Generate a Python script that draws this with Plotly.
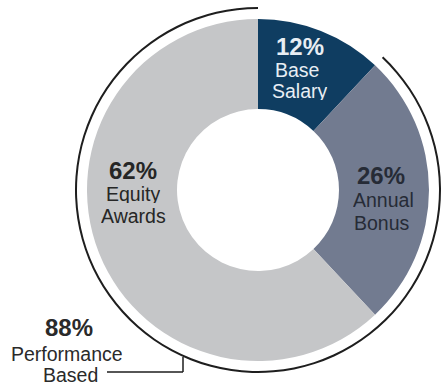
import math
import plotly.graph_objects as go

# ---- data ----
categories = ["Base Salary", "Annual Bonus", "Equity Awards"]
label_lines = [["Base", "Salary"], ["Annual", "Bonus"], ["Equity", "Awards"]]
values = [12, 26, 62]
perf_lines = ["Performance", "Based"]
perf_value = values[1] + values[2]  # 88

# ---- style / layout ----
W, H = 443, 386
CX, CY = 258, 190          # donut centre (px from top-left)
R = 171                    # donut outer radius
HOLE_R = 81                # donut hole radius
ARC_R = 183                # outer bracket arc radius
ARC_W = 2.0
colors = ["#0f3d61", "#727b90", "#c5c6c8"]
text_colors = ["#e8eef4", "#262b36", "#262626"]
FONT = "Liberation Sans, Arial, sans-serif"
PCT_SIZE = 24
LBL_SIZE = 19.5
PCT_BOX = 21
LINE_BOX = 19

# label anchor positions (px): pct line centre, then each label line centre
label_pos = [
    [(300, 47), (297, 70), (300, 91)],
    [(381, 175), (383, 200), (382, 222)],
    [(133, 170), (133, 193), (133, 215)],
]
perf_pos = [(69, 327), (67, 353), (70, 374)]


def px(x):
    return x / W


def py(y):
    return 1 - y / H


fig = go.Figure()

# main donut
fig.add_trace(go.Pie(
    labels=categories, values=values, sort=False, direction="clockwise",
    rotation=0, hole=HOLE_R / R,
    marker=dict(colors=colors, line=dict(width=0)),
    textinfo="none", hoverinfo="label+percent", showlegend=False,
    domain=dict(x=[px(CX - R), px(CX + R)], y=[py(CY + R), py(CY - R)]),
))

# outer bracket arc covering performance-based pay
fig.add_trace(go.Pie(
    labels=["Fixed", "Performance Based"], values=[values[0], perf_value],
    sort=False, direction="clockwise", rotation=0,
    hole=(ARC_R - ARC_W) / ARC_R,
    marker=dict(colors=["rgba(0,0,0,0)", "#1e1e1e"], line=dict(width=0)),
    textinfo="none", hoverinfo="skip", showlegend=False,
    domain=dict(x=[px(CX - ARC_R), px(CX + ARC_R)], y=[py(CY + ARC_R), py(CY - ARC_R)]),
))


def add_lines(texts, positions, color):
    out = []
    for j, t in enumerate(texts):
        x, y = positions[j]
        out.append(dict(
            x=px(x), y=py(y), xref="paper", yref="paper", text=t, showarrow=False,
            xanchor="center", yanchor="middle", valign="middle",
            height=PCT_BOX if j == 0 else LINE_BOX,
            font=dict(family=FONT, size=PCT_SIZE if j == 0 else LBL_SIZE, color=color),
        ))
    return out


annotations = []
for i, cat in enumerate(categories):
    lines = [f"<b>{values[i]}%</b>"] + label_lines[i]
    annotations += add_lines(lines, label_pos[i], text_colors[i])

annotations += add_lines([f"<b>{perf_value}%</b>"] + perf_lines, perf_pos, "#2a2a2a")

# leader line from "Based" to the arc
lead_y = 372
lead_x0, lead_x1 = 107, 183
arc_y = CY + math.sqrt(ARC_R ** 2 - (lead_x1 - CX) ** 2)
shapes = [
    dict(type="line", xref="paper", yref="paper", x0=px(lead_x0), x1=px(lead_x1),
         y0=py(lead_y), y1=py(lead_y), line=dict(color="#1e1e1e", width=1.5)),
    dict(type="line", xref="paper", yref="paper", x0=px(lead_x1), x1=px(lead_x1),
         y0=py(lead_y), y1=py(arc_y), line=dict(color="#1e1e1e", width=1.5)),
]

fig.update_layout(
    width=W, height=H, margin=dict(l=0, r=0, t=0, b=0),
    paper_bgcolor="white", plot_bgcolor="white",
    annotations=annotations, shapes=shapes,
)

fig.write_html("out.html")
